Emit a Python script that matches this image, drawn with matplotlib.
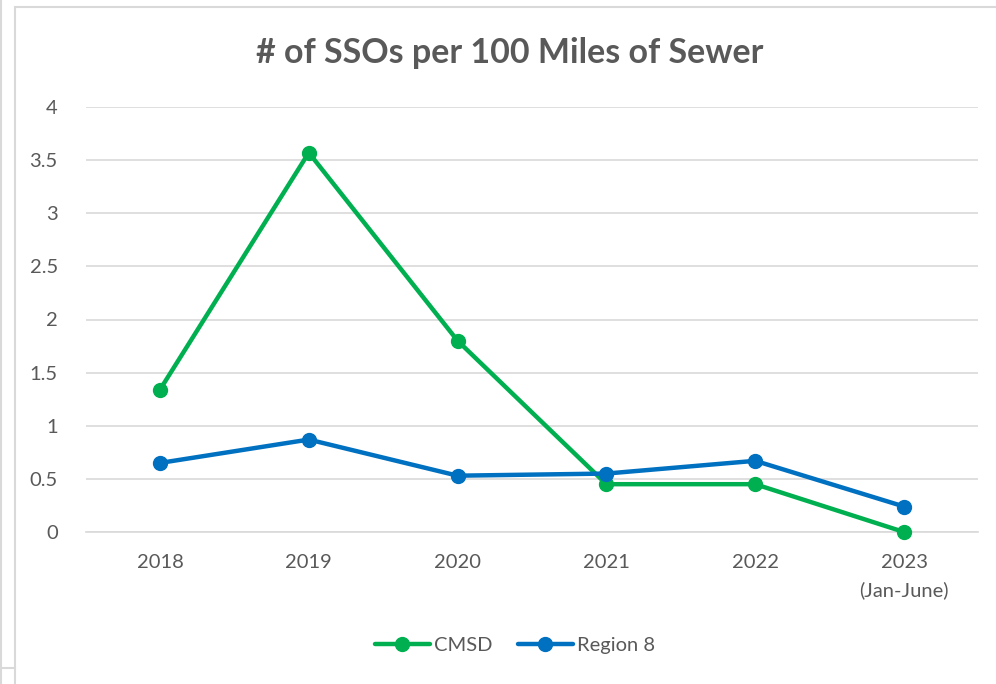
import matplotlib.pyplot as plt
from matplotlib.patches import Rectangle
from matplotlib.lines import Line2D

years = ["2018", "2019", "2020", "2021", "2022", "2023\n(Jan-June)"]
cmsd = [1.34, 3.57, 1.80, 0.45, 0.45, 0.0]
region8 = [0.65, 0.87, 0.53, 0.55, 0.67, 0.24]

green = "#00B050"
blue = "#0070C0"
grey = "#595959"

plt.rcParams['font.family'] = ['Lato', 'DejaVu Sans']

fig = plt.figure(figsize=(9.96, 6.84), dpi=100)

# chart border like the excel frame
fig.patches.append(Rectangle((15 / 996, -0.01), 1.0, 1 - 7 / 684 + 0.01,
                             transform=fig.transFigure, fill=False,
                             edgecolor="#D9D9D9", linewidth=1.5))
fig.add_artist(Line2D([0.001, 0.001], [0, 1], transform=fig.transFigure,
                      color="#D9D9D9", linewidth=1.5))
fig.add_artist(Line2D([0, 15 / 996], [1 - 668 / 684] * 2, transform=fig.transFigure,
                      color="#D9D9D9", linewidth=1.5))

ax = fig.add_axes([85.6 / 996, 1 - 532 / 684, 892.8 / 996, 425 / 684])

x = range(len(years))
ax.plot(x, cmsd, color=green, linewidth=3.2, marker="o", markersize=10,
        label="CMSD", solid_capstyle="round", zorder=3, clip_on=False)
ax.plot(x, region8, color=blue, linewidth=3.2, marker="o", markersize=10,
        label="Region 8", solid_capstyle="round", zorder=3, clip_on=False)

ax.set_xlim(-0.5, len(years) - 0.5)
ax.set_ylim(0, 4)
ax.set_yticks([0, 0.5, 1, 1.5, 2, 2.5, 3, 3.5, 4])
ax.set_yticklabels(["0", "0.5", "1", "1.5", "2", "2.5", "3", "3.5", "4"])
ax.set_xticks(list(x))
ax.set_xticklabels(years, linespacing=1.65)
ax.grid(axis="y", color="#D9D9D9", linewidth=1.2)
ax.set_axisbelow(True)
for s in ["top", "right", "left"]:
    ax.spines[s].set_visible(False)
ax.spines["bottom"].set_color("#D9D9D9")
ax.spines["bottom"].set_linewidth(1.2)
ax.tick_params(axis="both", length=0, labelsize=14.5, colors=grey)
ax.tick_params(axis="x", pad=16)
ax.tick_params(axis="y", pad=20)

fig.text(0.512, 1 - 53 / 684, "# of SSOs per 100 Miles of Sewer", ha="center",
         va="center", fontsize=24.5, fontweight="bold", color=grey)

leg = fig.legend(loc="center", bbox_to_anchor=(0.517, 1 - 645 / 684), ncol=2,
                 frameon=False, fontsize=14.5, handlelength=2.7, handletextpad=0.2,
                 columnspacing=1.3, labelcolor=grey)

fig.savefig("out.png", dpi=100)
